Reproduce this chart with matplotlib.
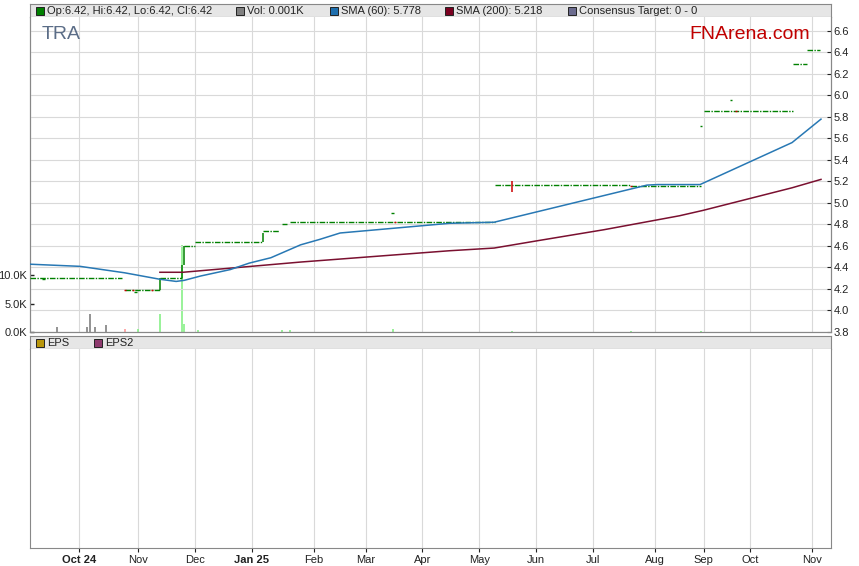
import matplotlib.pyplot as plt
from matplotlib import font_manager
from matplotlib.patches import Rectangle

W, H = 859, 566

# x axis is a trading-day index
month_idx = [18, 40, 61, 82, 105, 124, 145, 166, 187, 208, 231, 249, 266, 289]
month_labels = ["Oct 24", "Nov", "Dec", "Jan 25", "Feb", "Mar", "Apr", "May", "Jun", "Jul", "Aug", "Sep", "Oct", "Nov"]
bold_labels = ["Oct 24", "Jan 25"]

# flat price runs (start day, end day, price)
run_start = [0, 35, 48, 57, 61, 86, 93, 96, 172, 222, 249, 282, 287]
run_end = [34, 48, 56, 61, 86, 92, 95, 172, 222, 248, 282, 287, 292]
run_price = [4.30, 4.19, 4.30, 4.60, 4.635, 4.74, 4.80, 4.82, 5.17, 5.16, 5.85, 6.29, 6.42]

# single-day ticks
tick_day = [5, 39, 134, 248, 259]
tick_price = [4.295, 4.17, 4.905, 5.71, 5.96]
down_day = [35, 38, 45, 135, 222, 261]
down_price = [4.19, 4.19, 4.19, 4.82, 5.16, 5.85]

# high-low bars
hl_day = [48, 56, 57, 86, 178]
hl_low = [4.19, 4.30, 4.42, 4.635, 5.10]
hl_high = [4.30, 4.42, 4.60, 4.72, 5.20]
hl_color = ["#008000", "#008000", "#008000", "#008000", "#cc0000"]

sma60_day = [0, 18.5, 35, 48, 54, 57, 63, 74, 81, 89, 100, 107, 114.6, 155, 171.5, 228, 232, 247.6, 281.6, 292.3]
sma60 = [4.43, 4.41, 4.35, 4.29, 4.27, 4.28, 4.32, 4.38, 4.44, 4.49, 4.61, 4.66, 4.72, 4.81, 4.82, 5.165, 5.17, 5.17, 5.56, 5.778]
sma200_day = [48, 56.5, 100, 155, 171.5, 188, 212, 240, 248.7, 281.6, 292.3]
sma200 = [4.355, 4.355, 4.45, 4.555, 4.58, 4.65, 4.75, 4.88, 4.93, 5.14, 5.218]

# volume in thousands
vol_day = [10, 21, 22, 24, 28, 35, 40, 48, 56, 57, 62, 93, 96, 134, 178, 222, 248]
vol_k = [0.8, 0.8, 3.2, 0.8, 1.2, 0.5, 0.5, 3.2, 15.3, 1.4, 0.3, 0.3, 0.3, 0.5, 0.2, 0.2, 0.2]
vol_color = ["#808080"] * 5 + ["#ff9999"] + ["#88f088"] * 11

legend_items = ["Op:6.42, Hi:6.42, Lo:6.42, Cl:6.42", "Vol: 0.001K", "SMA (60): 5.778", "SMA (200): 5.218", "Consensus Target: 0 - 0"]
legend_colors = ["#008000", "#808080", "#1f6fae", "#7a0020", "#6b6b8e"]
legend_x = [36, 236, 330, 445, 568]
eps_items = ["EPS", "EPS2"]
eps_colors = ["#b8960b", "#8e3a6e"]
eps_x = [36, 94]

price_ticks = [3.8, 4.0, 4.2, 4.4, 4.6, 4.8, 5.0, 5.2, 5.4, 5.6, 5.8, 6.0, 6.2, 6.4, 6.6]
vol_ticks = [0, 5, 10]

names = {f.name for f in font_manager.fontManager.ttflist}
plt.rcParams["font.family"] = ["Liberation Sans", "DejaVu Sans"]
narrow = "Liberation Sans Narrow" if "Liberation Sans Narrow" in names else "Liberation Sans"

GRID = "#d9d9d9"
SPINE = "#888888"
XMAX = 296
LEFT, RIGHT = 30, 831


def box(l, t, r, b):
    return [l / W, 1 - b / H, (r - l) / W, (b - t) / H]


def legend_bar(a, items, colors, xs):
    # x in figure pixels
    a.set_facecolor("#e6e6e6")
    a.set_xlim(LEFT, RIGHT)
    a.set_ylim(0, 13)
    a.set_xticks([])
    a.set_yticks([])
    for s in a.spines.values():
        s.set_color(SPINE)
    for text, c, x in zip(items, colors, xs):
        a.add_patch(Rectangle((x, 2.5), 8, 8, facecolor=c, edgecolor="#222222", lw=0.7))
        a.text(x + 11, 6.3, text, color="#222222", fontsize=8, va="center", ha="left")


fig = plt.figure(figsize=(W / 100, H / 100), dpi=100)

ax_bar = fig.add_axes(box(LEFT, 4, RIGHT, 17))
legend_bar(ax_bar, legend_items, legend_colors, legend_x)

ax = fig.add_axes(box(LEFT, 17, RIGHT, 332))
ax2 = ax.twinx()

# volume
ax.vlines(vol_day, 0, vol_k, colors=vol_color, lw=1.2, zorder=2)
ax.set_ylim(0, 315 / 5.7)
ax.set_yticks(vol_ticks)
ax.set_yticklabels(["%.1fK" % v for v in vol_ticks])
ax.set_xlim(0, XMAX)
ax.set_xticks(month_idx)
ax.tick_params(axis="x", length=0, labelbottom=False)
ax.tick_params(axis="y", direction="in", length=3, width=1, color="#222222", labelsize=8, labelcolor="#222222", pad=2)
ax.grid(axis="x", color=GRID, lw=0.8, zorder=0)
ax.set_axisbelow(True)

# price
ax2.set_ylim(3.8, 6.727)
ax2.set_yticks(price_ticks)
ax2.set_yticklabels(["%.1f" % p for p in price_ticks])
ax2.tick_params(axis="y", direction="in", length=3, width=0.8, color="#222222", labelsize=8, labelcolor="#222222", pad=2)
for p in price_ticks:
    ax2.axhline(p, color=GRID, lw=0.8, zorder=0)
ds = (0, (4, 1, 1, 1))
ax2.hlines(run_price, run_start, run_end, colors="#008000", linestyles=[ds], lw=1.0, zorder=3)
ax2.hlines(tick_price, [d - 0.5 for d in tick_day], [d + 0.5 for d in tick_day], colors="#008000", lw=1.0, zorder=3)
ax2.hlines(down_price, [d - 0.4 for d in down_day], [d + 0.4 for d in down_day], colors="#cc0000", lw=1.0, zorder=4)
ax2.vlines(hl_day, hl_low, hl_high, colors=hl_color, lw=1.1, zorder=4)
ax2.plot(sma200_day, sma200, color="#7a1030", lw=1.1, zorder=5)
ax2.plot(sma60_day, sma60, color="#2878b4", lw=1.1, zorder=6)

for a in (ax, ax2):
    for s in a.spines.values():
        s.set_color(SPINE)
    a.spines["top"].set_visible(False)

ax2.text(0.015, 0.97, "TRA", transform=ax2.transAxes, fontsize=14, color="#5b6d87", va="top", ha="left")
ax2.text(0.974, 0.97, "FNArena.com", transform=ax2.transAxes, fontsize=14, color="#c00000", va="top", ha="right")

# lower panel
eps_bar = fig.add_axes(box(LEFT, 336, RIGHT, 349))
legend_bar(eps_bar, eps_items, eps_colors, eps_x)

ax_eps = fig.add_axes(box(LEFT, 349, RIGHT, 548))
ax_eps.set_xlim(0, XMAX)
ax_eps.set_ylim(0, 1)
ax_eps.set_yticks([])
ax_eps.set_xticks(month_idx)
ax_eps.set_xticklabels(month_labels, family=narrow, fontsize=8, color="#222222")
for lbl in ax_eps.get_xticklabels():
    if lbl.get_text() in bold_labels:
        lbl.set_fontweight("bold")
ax_eps.tick_params(axis="x", length=3, width=0.8, color="#222222", pad=2)
ax_eps.grid(axis="x", color=GRID, lw=0.8)
for s in ax_eps.spines.values():
    s.set_color(SPINE)
ax_eps.spines["top"].set_visible(False)

fig.savefig("out.png", dpi=100)
